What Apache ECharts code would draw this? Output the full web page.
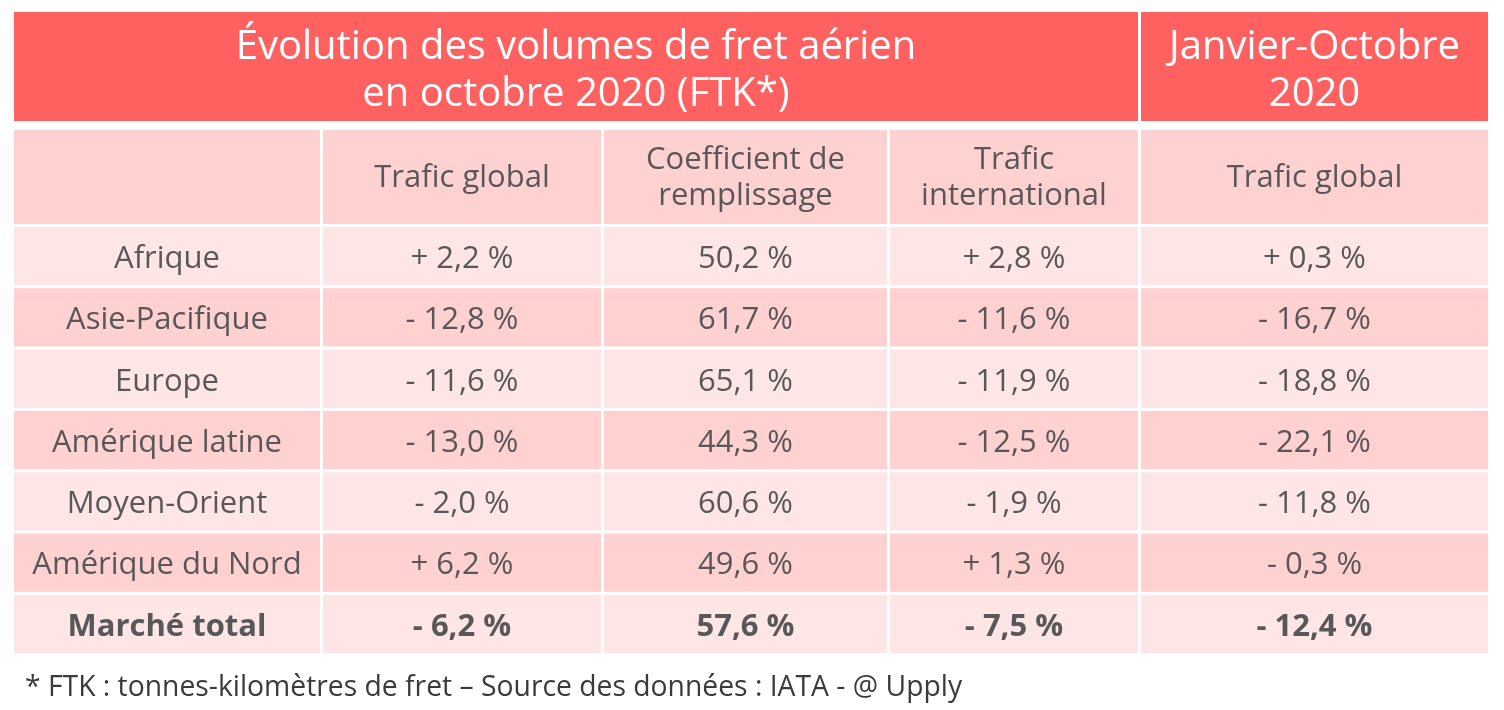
<!DOCTYPE html>
<html><head><meta charset="utf-8">
<script src="https://cdn.jsdelivr.net/npm/echarts@6/dist/echarts.min.js"></script>
<style>html,body{margin:0;padding:0;background:#fff}#c{width:1504px;height:710px}</style>
</head><body><div id="c"></div>
<script>
// ---- data ----
const regions = ['Afrique', 'Asie-Pacifique', 'Europe', 'Amérique latine', 'Moyen-Orient', 'Amérique du Nord', 'Marché total'];
const traficGlobalOct = [2.2, -12.8, -11.6, -13.0, -2.0, 6.2, -6.2];
const coefRemplissage = [50.2, 61.7, 65.1, 44.3, 60.6, 49.6, 57.6];
const traficInternational = [2.8, -11.6, -11.9, -12.5, -1.9, 1.3, -7.5];
const traficGlobalJanOct = [0.3, -16.7, -18.8, -22.1, -11.8, -0.3, -12.4];
const headerTop = ['Évolution des volumes de fret aérien\nen octobre 2020 (FTK*)', 'Janvier-Octobre\n2020'];
const headerSub = ['', 'Trafic global', 'Coefficient de\nremplissage', 'Trafic\ninternational', 'Trafic global'];
const footnote = '* FTK : tonnes-kilomètres de fret – Source des données : IATA - @ Upply';

// ---- layout (not data) ----
const colWidths = [309, 281, 286, 251, 350];
const rowHeights = [118, 97, 61.3, 61.3, 61.3, 61.3, 61.3, 61.3, 61.3];
const rowGaps = [9, 3, 3, 3, 3, 3, 3, 3, 3];
const colGap = 3;
const FONT = '"Open Sans", "Noto Sans", sans-serif';
const C = { red: '#FF6161', pink: '#FFD1D1', light: '#FFE6E6', text: '#585858', white: '#ffffff' };

const colEdges = [0]; colWidths.forEach(w => colEdges.push(colEdges[colEdges.length - 1] + w));
const rowEdges = [0]; rowHeights.forEach(h => rowEdges.push(rowEdges[rowEdges.length - 1] + h));
const totalW = colEdges[colEdges.length - 1];
const totalH = rowEdges[rowEdges.length - 1];

function fmtSigned(v) {
  const s = Math.abs(v).toFixed(1).replace('.', ',');
  return (v >= 0 ? '+ ' : '- ') + s + ' %';
}
function fmtPct(v) { return v.toFixed(1).replace('.', ',') + ' %'; }

const cells = [];
cells.push({ c0: 0, c1: 3, r: 0, text: headerTop[0], fill: C.red, color: C.white, size: 40, lh: 47, dy: 5, weight: 'normal' });
cells.push({ c0: 4, c1: 4, r: 0, text: headerTop[1], fill: C.red, color: C.white, size: 40, lh: 47, dy: 5, weight: 'normal' });
headerSub.forEach((t, i) => cells.push({ c0: i, c1: i, r: 1, text: t, fill: C.pink, color: C.text, size: 31, lh: 36, dy: 1, weight: 'normal' }));
regions.forEach((reg, i) => {
  const fill = i % 2 === 0 ? C.light : C.pink;
  const weight = i === regions.length - 1 ? 'bold' : 'normal';
  const vals = [reg, fmtSigned(traficGlobalOct[i]), fmtPct(coefRemplissage[i]), fmtSigned(traficInternational[i]), fmtSigned(traficGlobalJanOct[i])];
  vals.forEach((t, j) => cells.push({ c0: j, c1: j, r: 2 + i, text: t, fill, color: C.text, size: 31, lh: 36, dy: 3, weight }));
});

const chart = echarts.init(document.getElementById('c'));
chart.setOption({
  backgroundColor: '#ffffff',
  animation: false,
  title: {
    text: footnote, left: 20, top: 669,
    textStyle: { fontFamily: FONT, fontSize: 28.3, fontWeight: 'normal', color: '#3a3a3a' }
  },
  grid: { left: 14, top: 12, width: totalW, height: totalH },
  xAxis: { type: 'value', min: 0, max: totalW, show: false },
  yAxis: { type: 'value', min: 0, max: totalH, inverse: true, show: false },
  series: [{
    type: 'custom',
    clip: false,
    data: cells.map((c, i) => [i]),
    encode: { x: 0, y: 0 },
    renderItem: function (params, api) {
      const d = cells[params.dataIndex];
      const p0 = api.coord([colEdges[d.c0], rowEdges[d.r]]);
      const p1 = api.coord([colEdges[d.c1 + 1] - colGap, rowEdges[d.r + 1] - rowGaps[d.r]]);
      return {
        type: 'group',
        children: [
          { type: 'rect', shape: { x: p0[0], y: p0[1], width: p1[0] - p0[0], height: p1[1] - p0[1] }, style: { fill: d.fill } },
          { type: 'text', style: {
              text: d.text, x: (p0[0] + p1[0]) / 2, y: (p0[1] + p1[1]) / 2 + d.dy,
              align: 'center', verticalAlign: 'middle',
              fontFamily: FONT, fontSize: d.size, fontWeight: d.weight, lineHeight: d.lh, fill: d.color
          } }
        ]
      };
    }
  }]
});
</script></body></html>
